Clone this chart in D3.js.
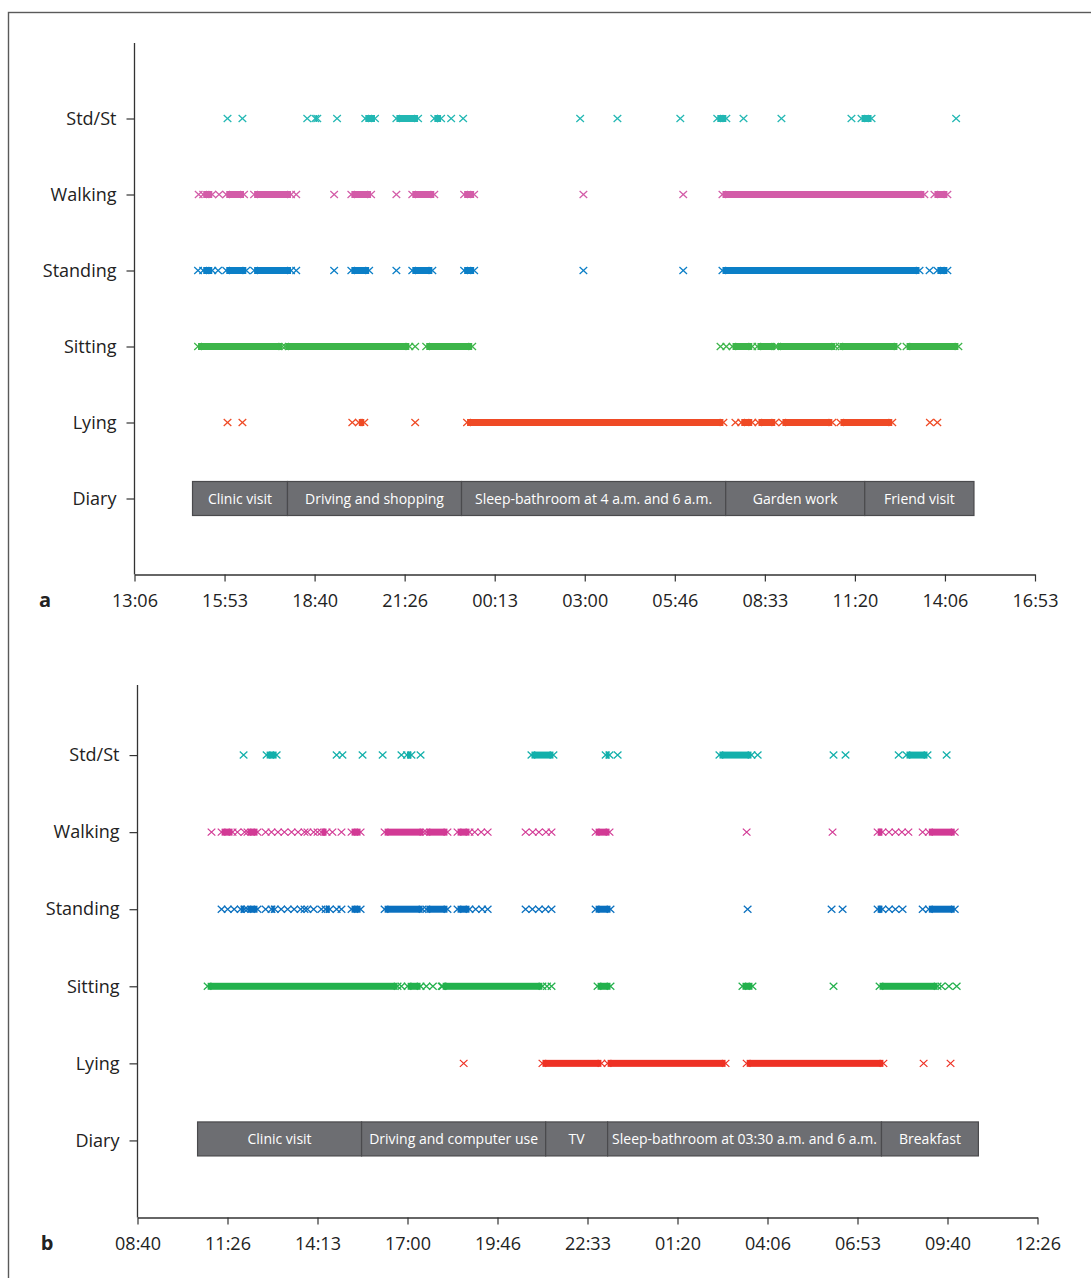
<!DOCTYPE html>
<html>
<head>
<meta charset="utf-8">
<script src="https://cdn.jsdelivr.net/npm/d3@7"></script>
<style>
  body { margin: 0; background: #fff; }
  text { font-family: "Open Sans", "Noto Sans", "DejaVu Sans", sans-serif; }
</style>
</head>
<body>
<svg id="chart" width="1091" height="1278"></svg>
<script>
// Activity rows, bottom to top
const activities = ["Diary", "Lying", "Sitting", "Standing", "Walking", "Std/St"];

// Time axis labels (axis runs over two calendar days)
const tickLabelsA = ["13:06","15:53","18:40","21:26","00:13","03:00","05:46","08:33","11:20","14:06","16:53"];
const tickLabelsB = ["08:40","11:26","14:13","17:00","19:46","22:33","01:20","04:06","06:53","09:40","12:26"];

// Axis extents in clock hours; values above 24 fall on the next day
const domainA = [13.1, 40.883];
const domainB = [8.667, 36.433];

// Detected postures: [start, end] in clock hours (single detections have start == end)
const stdStA = [[15.97,15.97],[16.43,16.43],[18.43,18.43],[18.68,18.74],[19.35,19.35],[20.22,20.52],[21.18,21.85],[22.35,22.56],[22.87,22.87],[23.24,23.24],
  [26.85,26.85],[28.00,28.00],[29.94,29.94],[31.08,31.36],[31.89,31.89],[33.06,33.06],[35.22,35.22],[35.53,35.84],[38.45,38.45]];
const walkingA = [[15.08,15.08],[15.22,15.50],[15.71,15.71],[15.93,16.48],[16.79,17.93],[18.09,18.09],[19.26,19.26],[19.79,20.40],[21.18,21.18],[21.67,22.35],[23.27,23.58],
  [26.95,26.95],[30.03,30.03],[31.24,37.47],[37.78,38.18]];
const standingA = [[15.06,15.06],[15.22,15.50],[15.68,15.68],[15.93,16.55],[16.79,17.93],[18.09,18.09],[19.26,19.26],[19.79,20.34],[21.18,21.18],[21.67,22.29],[23.27,23.58],
  [26.95,26.95],[30.03,30.03],[31.24,37.32],[37.63,37.63],[37.87,38.18]];
const sittingA = [[15.06,17.66],[17.75,21.58],[21.76,21.76],[22.10,23.52],
  [31.18,31.18],[31.36,31.36],[31.55,32.16],[32.32,32.87],[32.93,34.72],[34.85,36.64],[36.92,38.52]];
const lyingA = [[15.97,15.97],[16.43,16.43],[19.82,19.82],[20.02,20.19],[21.76,21.76],[23.36,31.27],
  [31.64,31.64],[31.82,32.16],[32.35,32.87],[33.09,34.63],[34.88,36.48],[37.64,37.64],[37.87,37.87]];

const stdStB = [[11.94,11.94],[12.65,12.96],[14.81,14.81],[14.99,14.99],[15.61,15.61],[16.23,16.23],[16.81,16.81],[16.98,17.12],[17.40,17.40],[20.82,21.50],
  [23.11,23.23],[23.48,23.48],[26.62,27.61],[27.80,27.80],[30.14,30.14],[30.51,30.51],[32.15,32.15],[32.39,33.04],[33.63,33.63]];
const walkingB = [[10.95,10.95],[11.26,11.60],[11.75,11.75],[11.97,11.97],[12.06,12.37],[12.62,12.62],[12.80,12.80],[13.00,13.00],[13.20,13.20],[13.42,13.42],[13.62,13.62],[13.82,13.82],
  [13.91,13.91],[14.10,14.10],[14.22,14.22],[14.34,14.50],[14.68,14.68],[14.96,14.96],[15.27,15.55],[16.29,17.49],[17.58,18.23],[18.54,18.91],[19.07,19.07],[19.27,19.27],[19.47,19.47],
  [20.64,20.64],[20.86,20.86],[21.05,21.05],[21.27,21.27],[21.44,21.44],[22.80,23.23],[27.46,27.46],[30.11,30.11],
  [31.50,31.65],[31.85,31.85],[32.05,32.05],[32.25,32.25],[32.45,32.45],[32.89,32.89],[33.08,33.88]];
const standingB = [[11.26,11.26],[11.45,11.45],[11.65,11.65],[11.85,11.97],[12.06,12.37],[12.62,12.62],[12.80,12.90],[13.10,13.10],[13.30,13.30],[13.50,13.50],[13.70,13.70],[13.82,13.82],
  [13.91,13.91],[14.10,14.10],[14.34,14.34],[14.47,14.60],[14.81,14.81],[14.96,14.96],[15.27,15.55],[16.29,17.46],[17.58,18.23],[18.54,18.91],[19.10,19.10],[19.30,19.30],[19.47,19.47],
  [20.64,20.64],[20.85,20.85],[21.05,21.05],[21.25,21.25],[21.44,21.44],[22.80,23.26],[27.49,27.49],[30.08,30.08],[30.42,30.42],
  [31.50,31.65],[31.85,31.85],[32.05,32.05],[32.27,32.27],[32.89,32.89],[33.08,33.88]];
const sittingB = [[10.83,16.69],[16.81,16.81],[17.00,17.40],[17.58,17.58],[17.78,17.78],[18.05,18.05],[18.08,21.16],[21.30,21.30],[21.44,21.44],
  [22.86,23.26],[27.33,27.64],[30.14,30.14],[31.56,33.35],[33.47,33.47],[33.70,33.70],[33.94,33.94]];
const lyingB = [[18.73,18.73],[21.16,22.98],[23.17,26.81],[27.46,31.68],[32.92,32.92],[33.75,33.75]];

// Diary entries: [label, start, end]
const diaryA = [["Clinic visit",14.89,17.82],["Driving and shopping",17.82,23.19],["Sleep-bathroom at 4 a.m. and 6 a.m.",23.19,31.34],
  ["Garden work",31.34,35.63],["Friend visit",35.63,39.0]];
const diaryB = [["Clinic visit",10.52,15.58],["Driving and computer use",15.58,21.26],["TV",21.26,23.17],
  ["Sleep-bathroom at 03:30 a.m. and 6 a.m.",23.17,31.62],["Breakfast",31.62,34.61]];

const svg = d3.select("#chart");

// outer frame
svg.append("rect").attr("x", 8.5).attr("y", 12.5).attr("width", 1200).attr("height", 1400)
  .attr("fill", "none").attr("stroke", "#5a5a5a").attr("stroke-width", 1.4);

function drawPanel(cfg) {
  const g = svg.append("g");
  const x = d3.scaleLinear().domain(cfg.domain).range(cfg.xRange);
  const y = d3.scaleLinear().domain([0, 7]).range(cfg.yRange);
  const step = (cfg.domain[1] - cfg.domain[0]) / (cfg.tickLabels.length - 1);
  const tickVals = cfg.tickLabels.map((_, i) => cfg.domain[0] + i * step);

  // x axis
  const xAxis = d3.axisBottom(x).tickValues(tickVals)
    .tickFormat((d, i) => cfg.tickLabels[i]).tickSize(7).tickSizeOuter(0).tickPadding(13);
  const xg = g.append("g").attr("transform", `translate(0,${y(0)})`).call(xAxis);
  xg.select(".domain").attr("stroke", "#333").attr("stroke-width", 1.3);
  xg.selectAll(".tick line").attr("stroke", "#333").attr("stroke-width", 1.2);
  xg.selectAll(".tick text").attr("font-size", 18).attr("fill", "#222");

  // y axis
  const yAxis = d3.axisLeft(y).tickValues(d3.range(1, 7))
    .tickFormat(d => activities[d - 1]).tickSize(8).tickPadding(10);
  const yg = g.append("g").attr("transform", `translate(${x(cfg.domain[0])},0)`).call(yAxis);
  yg.select(".domain").remove();
  yg.append("line").attr("x1", 0).attr("x2", 0).attr("y1", cfg.axisTop).attr("y2", y(0))
    .attr("stroke", "#333").attr("stroke-width", 1.3);
  yg.selectAll(".tick line").attr("stroke", "#333").attr("stroke-width", 1.2);
  yg.selectAll(".tick text").attr("font-size", 18).attr("fill", "#222");

  // panel letter
  g.append("text").attr("x", cfg.letterX).attr("y", y(0) + 32).attr("text-anchor", "middle")
    .attr("font-size", 20).attr("font-weight", 700).attr("fill", "#222").text(cfg.letter);

  // posture detections
  const rows = [
    { data: cfg.lying, row: 2, color: cfg.colors.lying },
    { data: cfg.sitting, row: 3, color: cfg.colors.sitting },
    { data: cfg.standing, row: 4, color: cfg.colors.standing },
    { data: cfg.walking, row: 5, color: cfg.colors.walking },
    { data: cfg.stdSt, row: 6, color: cfg.colors.stdSt }
  ];
  const hw = 3.8, hh = 3.5;
  rows.forEach(r => {
    const rg = g.append("g").attr("transform", `translate(0,${y(r.row)})`);
    rg.selectAll("rect.run").data(r.data.filter(d => d[1] > d[0])).join("rect")
      .attr("class", "run")
      .attr("x", d => x(d[0])).attr("width", d => x(d[1]) - x(d[0]))
      .attr("y", -hh).attr("height", 2 * hh).attr("fill", r.color);
    const ends = [];
    r.data.forEach(d => { ends.push(d[0]); if (d[1] > d[0]) ends.push(d[1]); });
    rg.selectAll("path.mk").data(ends).join("path")
      .attr("class", "mk")
      .attr("transform", d => `translate(${x(d)},0)`)
      .attr("d", `M${-hw},${-hh}L${hw},${hh}M${-hw},${hh}L${hw},${-hh}`)
      .attr("stroke", r.color).attr("stroke-width", 1.25).attr("fill", "none");
  });

  // diary bar
  const dy = y(1) + cfg.diaryShift;
  const dg = g.append("g");
  dg.selectAll("rect").data(cfg.diary).join("rect")
    .attr("x", d => x(d[1])).attr("width", d => x(d[2]) - x(d[1]))
    .attr("y", dy - 17).attr("height", 34)
    .attr("fill", "#6d6e72").attr("stroke", "#4a4a4d").attr("stroke-width", 1.2);
  dg.selectAll("text").data(cfg.diary).join("text")
    .attr("x", d => (x(d[1]) + x(d[2])) / 2).attr("y", dy + 5)
    .attr("text-anchor", "middle").attr("font-size", 14).attr("fill", "#fff")
    .text(d => d[0]);
}

drawPanel({
  domain: domainA, tickLabels: tickLabelsA, xRange: [134.5, 1035], yRange: [574.5, 42.5], axisTop: 43,
  letter: "a", letterX: 45, diaryShift: 0,
  stdSt: stdStA, walking: walkingA, standing: standingA, sitting: sittingA, lying: lyingA, diary: diaryA,
  colors: { stdSt: "#22b7b3", walking: "#d35ca8", standing: "#0b7fc7", sitting: "#3db54a", lying: "#ef4a25" }
});

drawPanel({
  domain: domainB, tickLabels: tickLabelsB, xRange: [137.5, 1037.5], yRange: [1217.5, 678], axisTop: 685,
  letter: "b", letterX: 47, diaryShift: -1.5,
  stdSt: stdStB, walking: walkingB, standing: standingB, sitting: sittingB, lying: lyingB, diary: diaryB,
  colors: { stdSt: "#13b0ab", walking: "#d23a95", standing: "#0a70bf", sitting: "#23b14d", lying: "#ee3124" }
});
</script>
</body>
</html>
